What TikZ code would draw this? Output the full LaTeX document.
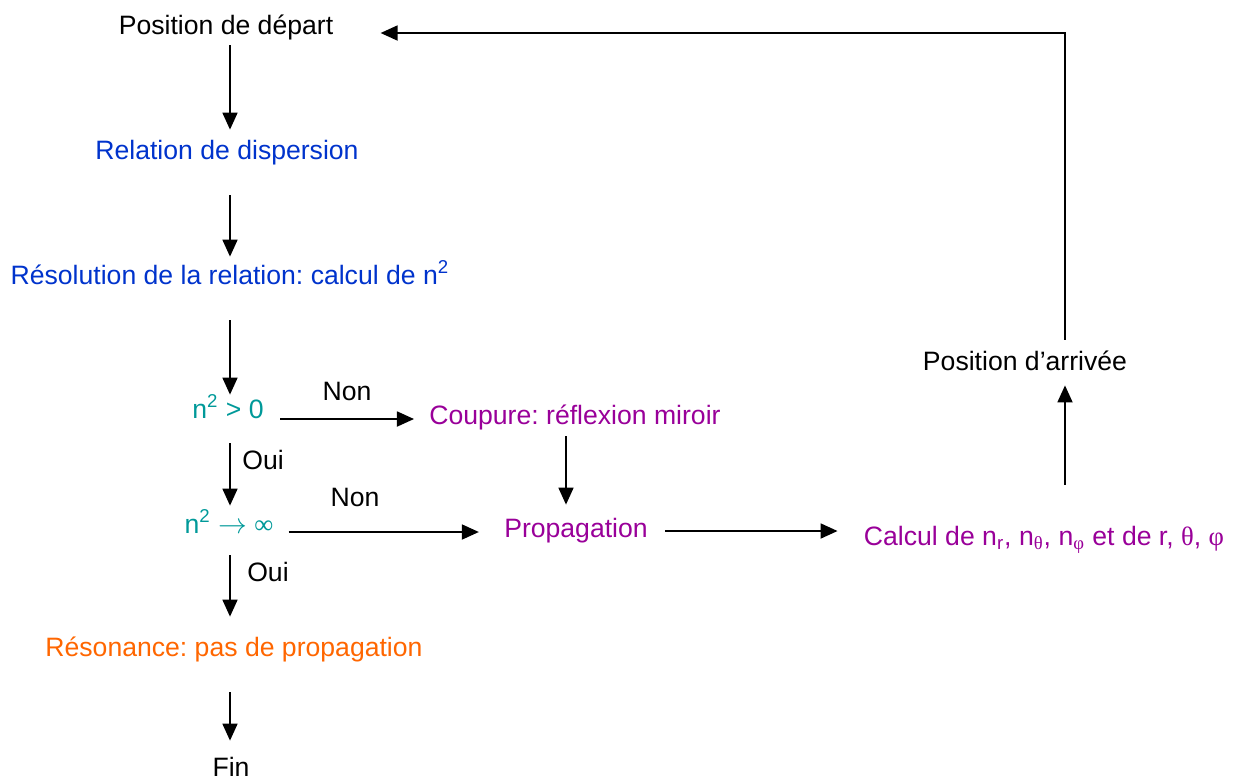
\documentclass[tikz,border=0pt]{standalone}
\usepackage{fontspec}
\setmainfont{Liberation Sans}
\newfontfamily\grk{Liberation Serif}
\usepackage{xcolor}
\usepackage{tikz}
\usetikzlibrary{arrows.meta,positioning,calc}
\definecolor{relblue}{HTML}{0033CC}
\definecolor{condteal}{HTML}{009999}
\definecolor{propviolet}{HTML}{990099}
\definecolor{resorange}{HTML}{FF6600}
\frenchspacing

\begin{document}
\begin{tikzpicture}[
  x=0.5pt, y=-0.5pt,
  plain/.style={font=\fontsize{13.3pt}{16pt}\selectfont, inner sep=0pt, text height=10pt, text depth=3pt, anchor=base},
  relstyle/.style={plain, text=relblue},
  condstyle/.style={plain, text=condteal},
  propstyle/.style={plain, text=propviolet},
  resostyle/.style={plain, text=resorange},
  arrow/.style={-{Triangle[length=8.5pt,width=7.5pt]}, line width=0.9pt}
]
\useasboundingbox (0,0) rectangle (1233,778);
\coordinate (axis) at (230,0);
\coordinate (retx) at (1065,0);

\node[plain] (depart) at (226,34) {Position de départ};
\node[relstyle] (disp) at (227,159) {Relation de dispersion};
\node[relstyle] (resol) at (230,284) {Résolution de la relation: calcul de n\textsuperscript{2}};
\node[condstyle] (npos) at (228,418) {n\textsuperscript{2} > 0};
\node[condstyle] (ninf) at (229,533) {n\textsuperscript{2} $\rightarrow$ {\grk ∞}};
\node[propstyle] (coup) at (575,424) {Coupure: réflexion miroir};
\node[propstyle] (propag) at (576,537) {Propagation};
\node[propstyle] (calc) at (1044,545) {Calcul de n\textsubscript{r}, n\textsubscript{\grk θ}, n\textsubscript{\grk φ} et de r, {\grk θ}, {\grk φ}};
\node[plain] (arrivee) at (1025,370) {Position d’arrivée};
\node[resostyle] (reso) at (234,656) {Résonance: pas de propagation};
\node[plain] (fin) at (231,776) {Fin};
\node[plain] (non1) at (347,400) {Non};
\node[plain] (oui1) at (263,469) {Oui};
\node[plain] (non2) at (355,506) {Non};
\node[plain] (oui2) at (268,581) {Oui};

\draw[arrow, shorten <=2.5pt, shorten >=4.5pt] (depart.south -| axis) -- (disp.north -| axis);
\draw[arrow, shorten <=15pt, shorten >=3.5pt] (disp.south -| axis) -- (resol.north -| axis);
\draw[arrow, shorten <=15pt, shorten >=1.5pt] (resol.south -| axis) -- (npos.north -| axis);
\draw[arrow, shorten <=9.5pt, shorten >=3.5pt] (npos.south -| axis) -- (ninf.north -| axis);
\draw[arrow, shorten <=8pt, shorten >=9.5pt] (ninf.south -| axis) -- (reso.north -| axis);
\draw[arrow, shorten <=15pt, shorten >=7.5pt] (reso.south -| axis) -- (fin.north -| axis);
\draw[arrow, shorten <=8pt, shorten >=7.5pt] ([yshift=-4pt]npos.east) -- ([yshift=-4pt]npos.east -| coup.west);
\draw[arrow, shorten <=7.5pt, shorten >=12.5pt] ([yshift=-3pt]ninf.east) -- ([yshift=-3pt]ninf.east -| propag.west);
\draw[arrow, shorten <=3pt, shorten >=6pt] ([xshift=-4.5pt]coup.south) -- ([xshift=-4.5pt]coup.south |- propag.north);
\draw[arrow, shorten <=8.5pt, shorten >=13pt] ([yshift=-0.5pt]propag.east) -- ([yshift=-0.5pt]propag.east -| calc.west);
\draw[arrow, shorten <=20pt, shorten >=4.5pt] (calc.north -| retx) -- (arrivee.south -| retx);
\draw[arrow, shorten <=5pt, shorten >=23.5pt] (arrivee.north -| retx) |- ([yshift=-3pt]depart.east);
\end{tikzpicture}
\end{document}
